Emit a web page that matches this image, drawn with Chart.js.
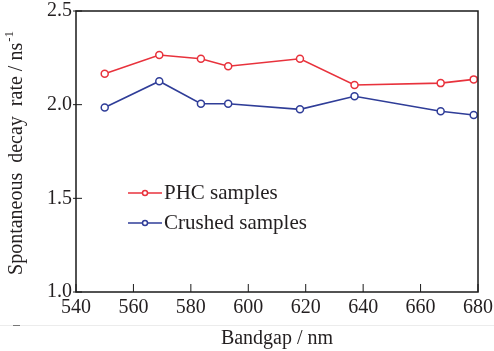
<!DOCTYPE html>
<html>
<head>
<meta charset="utf-8">
<script src="https://cdn.jsdelivr.net/npm/chart.js@4.4.1/dist/chart.umd.min.js"></script>
<style>
    html, body { margin: 0; padding: 0; background: #fff; }
    #wrap { width: 494px; height: 351px; }
</style>
</head>
<body>
<div id="wrap"><canvas id="chart" width="494" height="351"></canvas></div>
<script>
const bandgap = [550, 569, 583.5, 593, 618, 637, 667, 678.5];
const phcRate = [2.165, 2.265, 2.245, 2.205, 2.245, 2.105, 2.115, 2.135];
const crushedRate = [1.985, 2.125, 2.005, 2.005, 1.975, 2.045, 1.965, 1.945];
const seriesNames = ['PHC samples', 'Crushed samples'];
const seriesColors = ['#e8323c', '#2f3d98'];
const xTicks = [540, 560, 580, 600, 620, 640, 660, 680];
const yTicks = [1.0, 1.5, 2.0, 2.5];

const FONT = '"Liberation Serif", "Times New Roman", serif';
const TEXT = '#231f20';

function toPoints(xs, ys) {
    return xs.map((x, i) => ({ x: x, y: ys[i] }));
}

// box, inside ticks, legend and y title
const decor = {
    id: 'decor',
    afterDraw(chart) {
        const ctx = chart.ctx;
        const a = chart.chartArea;
        const xs = chart.scales.x;
        const ys = chart.scales.y;
        ctx.save();
        ctx.strokeStyle = '#1a1a1a';
        ctx.lineWidth = 1.5;
        ctx.strokeRect(a.left, a.top, a.right - a.left, a.bottom - a.top);

        ctx.beginPath();
        for (const t of xTicks) {
            const px = xs.getPixelForValue(t);
            ctx.moveTo(px, a.bottom);
            ctx.lineTo(px, a.bottom - 8);
        }
        for (const t of yTicks) {
            const py = ys.getPixelForValue(t);
            ctx.moveTo(a.left - 3, py);
            ctx.lineTo(a.left + 6, py);
        }
        ctx.lineWidth = 1;
        ctx.stroke();

        // legend
        const rows = [193, 223];
        ctx.font = '21px ' + FONT;
        ctx.textBaseline = 'middle';
        rows.forEach((y, i) => {
            ctx.strokeStyle = seriesColors[i];
            ctx.lineWidth = 1.5;
            ctx.beginPath();
            ctx.moveTo(128, y);
            ctx.lineTo(162, y);
            ctx.stroke();
            ctx.beginPath();
            ctx.arc(145, y, 2.5, 0, Math.PI * 2);
            ctx.fillStyle = '#fff';
            ctx.fill();
            ctx.stroke();
            ctx.fillStyle = TEXT;
            ctx.fillText(seriesNames[i], 164, y);
        });

        // y axis title with superscript
        ctx.translate(17, (a.top + a.bottom) / 2 + 2);
        ctx.rotate(-Math.PI / 2);
        const main = 'Spontaneous  decay  rate / ns';
        ctx.font = '20px ' + FONT;
        const w1 = ctx.measureText(main).width;
        ctx.font = '13px ' + FONT;
        const sup = '-1';
        const w2 = ctx.measureText(sup).width;
        const start = -(w1 + w2) / 2;
        ctx.textAlign = 'left';
        ctx.font = '20px ' + FONT;
        ctx.fillText(main, start, 0);
        ctx.font = '13px ' + FONT;
        ctx.fillText(sup, start + w1 + 1, -7);
        ctx.restore();

        // faint scan line near bottom
        ctx.save();
        ctx.strokeStyle = '#ececec';
        ctx.lineWidth = 1;
        ctx.beginPath();
        ctx.moveTo(0, 325.5);
        ctx.lineTo(494, 325.5);
        ctx.stroke();
        ctx.strokeStyle = '#777';
        ctx.beginPath();
        ctx.moveTo(13, 325.5);
        ctx.lineTo(20, 325.5);
        ctx.stroke();
        ctx.restore();
    }
};

function makeDataset(i, ys) {
    return {
        label: seriesNames[i],
        data: toPoints(bandgap, ys),
        borderColor: seriesColors[i],
        backgroundColor: '#fff',
        pointBorderColor: seriesColors[i],
        pointBackgroundColor: '#fff',
        borderWidth: 1.6,
        pointRadius: 3.5,
        pointBorderWidth: 1.5,
        tension: 0
    };
}

new Chart(document.getElementById('chart').getContext('2d'), {
    type: 'line',
    data: {
        datasets: [makeDataset(0, phcRate), makeDataset(1, crushedRate)]
    },
    options: {
        responsive: false,
        animation: false,
        devicePixelRatio: 1,
        layout: { padding: { top: 11, right: 16, left: 0, bottom: 0 } },
        plugins: {
            legend: { display: false },
            tooltip: { enabled: false }
        },
        scales: {
            x: {
                type: 'linear',
                min: 540,
                max: 680,
                afterFit(scale) {
                    scale.height = 59;
                    scale.paddingLeft = 0;
                    scale.paddingRight = 0;
                },
                afterBuildTicks(scale) { scale.ticks = xTicks.map(v => ({ value: v })); },
                grid: { display: false, drawTicks: false },
                border: { display: false },
                ticks: {
                    padding: 4,
                    maxRotation: 0,
                    color: TEXT,
                    font: { family: FONT, size: 20 }
                },
                title: {
                    display: true,
                    text: 'Bandgap / nm',
                    color: TEXT,
                    font: { family: FONT, size: 20 },
                    padding: { top: 0, bottom: 0 }
                }
            },
            y: {
                min: 1.0,
                max: 2.5,
                afterFit(scale) {
                    scale.width = 76;
                    scale.paddingTop = 0;
                    scale.paddingBottom = 0;
                },
                afterBuildTicks(scale) { scale.ticks = yTicks.map(v => ({ value: v })); },
                grid: { display: false, drawTicks: false },
                border: { display: false },
                ticks: {
                    padding: 4,
                    color: TEXT,
                    font: { family: FONT, size: 20 },
                    callback: v => Number(v).toFixed(1)
                }
            }
        }
    },
    plugins: [decor]
});
</script>
</body>
</html>
